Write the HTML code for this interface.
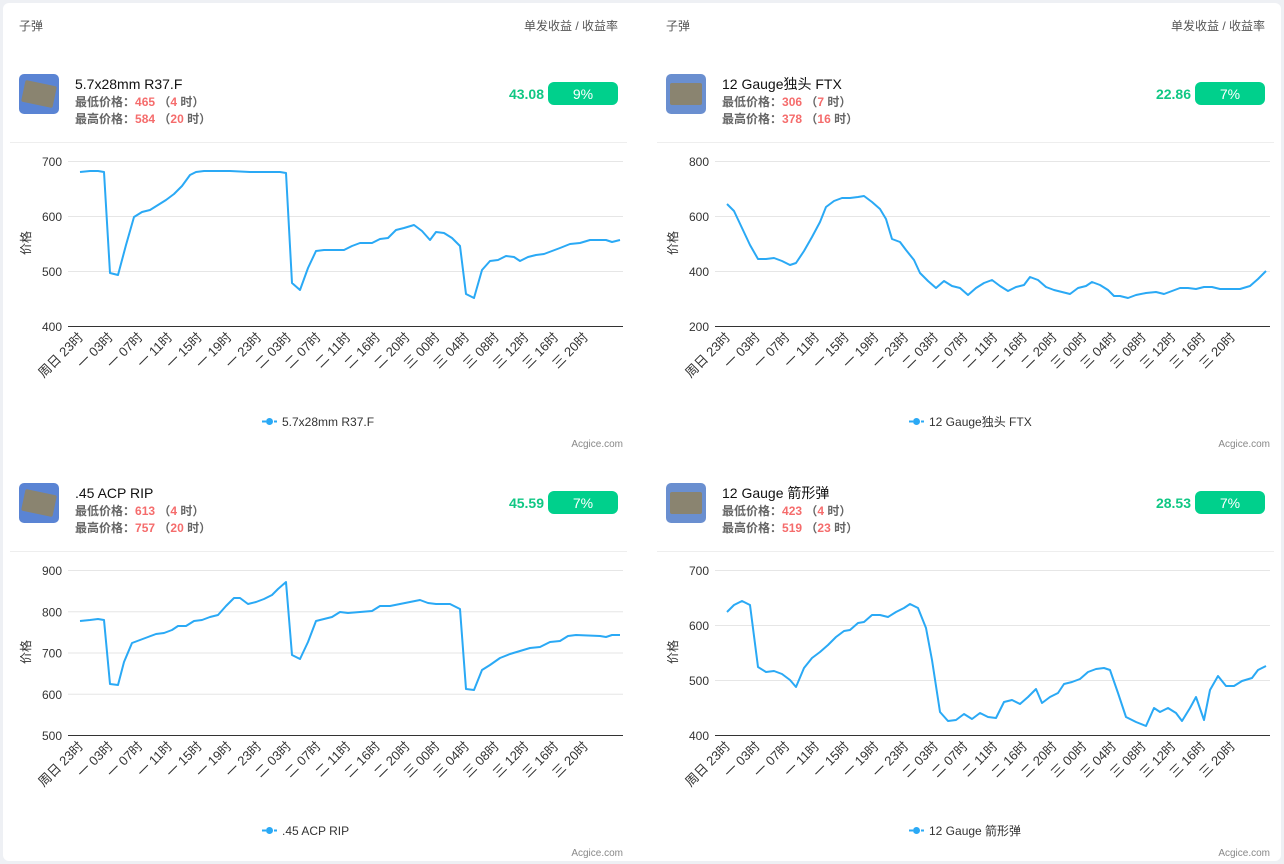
<!DOCTYPE html>
<html><head><meta charset="utf-8"><style>
html,body{margin:0;padding:0;background:#eef0f4;}
svg{display:block;font-family:"Liberation Sans","Noto Sans CJK SC",sans-serif;}
</style></head><body>
<svg id="s" width="1284" height="864" xmlns="http://www.w3.org/2000/svg">
<rect x="3" y="3" width="1278" height="858" rx="6" fill="#fff"/>
</svg>
<script>
const S=document.getElementById('s');let h='';
const labels=['周日 23时','一 03时','一 07时','一 11时','一 15时','一 19时','一 23时','二 03时','二 07时','二 11时','二 16时','二 20时','三 00时','三 04时','三 08时','三 12时','三 16时','三 20时'];
const panels=[
{ox:0,oy:0,name:'5.7x28mm R37.F',lo:'465',lh:'4',hi:'584',hh:'20',val:'43.08',pct:'9%',ticks:[700,600,500,400],top:true,icon:'#5a84d4',
pts:"80,172 90,171 98,171 104,172 110,273 118,275 126,245 134,217 142,212 150,210 158,205 166,200 174,194 182,186 190,175 196,172 204,171 230,171 250,172 280,172 286,173 292,283 300,290 308,268 316,251 324,250 344,250 352,246 360,243 372,243 380,239 388,238 396,230 404,228 414,225 422,231 430,240 436,232 444,233 452,238 460,246 466,294 474,298 482,270 490,261 498,260 506,256 514,257 520,261 528,257 536,255 544,254 552,251 560,248 570,244 580,243 590,240 606,240 612,242 620,240"},
{ox:647,oy:0,name:'12 Gauge独头 FTX',lo:'306',lh:'7',hi:'378',hh:'16',val:'22.86',pct:'7%',ticks:[800,600,400,200],top:true,icon:'#6a8fd0',
pts:"727,204 734,211 742,228 750,245 758,259 766,259 774,258 782,261 790,265 796,263 804,251 812,237 820,222 826,207 834,201 842,198 850,198 858,197 864,196 872,202 880,209 886,219 892,239 900,242 906,250 914,260 920,273 928,281 936,288 944,281 952,286 960,288 968,295 976,288 984,283 992,280 1000,286 1008,291 1016,287 1024,285 1030,277 1038,280 1046,287 1054,290 1062,292 1070,294 1078,288 1086,286 1092,282 1100,285 1108,290 1114,296 1120,296 1128,298 1136,295 1146,293 1156,292 1164,294 1172,291 1180,288 1188,288 1196,289 1204,287 1212,287 1220,289 1228,289 1240,289 1250,286 1258,279 1266,271"},
{ox:0,oy:409,name:'.45 ACP RIP',lo:'613',lh:'4',hi:'757',hh:'20',val:'45.59',pct:'7%',ticks:[900,800,700,600,500],top:false,icon:'#5a84d4',
pts:"80,621 90,620 98,619 104,620 110,684 118,685 124,662 132,643 140,640 148,637 156,634 164,633 172,630 178,626 186,626 194,621 202,620 210,617 218,615 226,606 234,598 240,598 248,604 256,602 264,599 272,595 278,589 286,582 292,655 300,659 308,642 316,621 324,619 332,617 340,612 348,613 360,612 372,611 380,606 390,606 400,604 410,602 420,600 428,603 436,604 450,604 460,609 466,689 474,690 482,670 490,665 500,658 510,654 520,651 530,648 540,647 550,642 560,641 568,636 576,635 600,636 606,637 612,635 620,635"},
{ox:647,oy:409,name:'12 Gauge 箭形弹',lo:'423',lh:'4',hi:'519',hh:'23',val:'28.53',pct:'7%',ticks:[700,600,500,400],top:false,icon:'#6a8fd0',
pts:"727,612 734,605 742,601 750,605 758,667 766,672 774,671 782,674 790,680 796,687 804,668 812,658 820,652 828,645 836,637 844,631 850,630 858,623 864,622 872,615 880,615 888,617 896,612 904,608 910,604 918,608 926,628 932,660 940,712 948,721 956,720 964,714 972,719 980,713 988,717 996,718 1004,702 1012,700 1020,704 1028,697 1036,689 1042,703 1050,697 1058,693 1064,684 1072,682 1080,679 1088,672 1096,669 1104,668 1110,670 1118,693 1126,717 1136,722 1146,726 1154,708 1160,712 1168,708 1176,713 1182,721 1190,708 1196,697 1204,720 1210,690 1218,676 1226,686 1234,686 1242,681 1252,678 1258,670 1266,666"}
];
for(const p of panels){const X=p.ox,Y=p.oy;
if(p.top){h+=`<text x="${X+19}" y="${Y+30}" font-size="12" fill="#555">子弹</text><text x="${X+618}" y="${Y+30}" font-size="12" fill="#555" text-anchor="end">单发收益 / 收益率</text>`;}
h+=`<rect x="${X+19}" y="${Y+74}" width="40" height="40" rx="5" fill="${p.icon}"/><rect x="${X+23}" y="${Y+83}" width="32" height="22" rx="2" fill="#8a8470" transform="rotate(${X?0:12} ${X+39} ${Y+94})"/>`;
h+=`<text x="${X+75}" y="${Y+89}" font-size="14" fill="#111">${p.name}</text>`;
const info=(yy,lab,v,hh)=>`<text x="${X+75}" y="${Y+yy}" font-size="12" font-weight="bold" fill="#666">${lab}：<tspan fill="#f56c6c">${v}</tspan> （<tspan fill="#f56c6c">${hh}</tspan> 时）</text>`;
h+=info(106,'最低价格',p.lo,p.lh)+info(123,'最高价格',p.hi,p.hh);
h+=`<text x="${X+544}" y="${Y+99}" font-size="14" font-weight="bold" fill="#10c784" text-anchor="end">${p.val}</text><rect x="${X+548}" y="${Y+82}" width="70" height="23" rx="6" fill="#00d08c"/><text x="${X+583}" y="${Y+99}" font-size="14" fill="#fff" text-anchor="middle">${p.pct}</text>`;
h+=`<line x1="${X+10}" y1="${Y+142.5}" x2="${X+627}" y2="${Y+142.5}" stroke="#eee"/>`;
const n=p.ticks.length,top=161,bot=326,st=(bot-top)/(n-1);
p.ticks.forEach((t,i)=>{const yy=Y+top+i*st;h+=`<line x1="${X+68}" y1="${yy+.5}" x2="${X+623}" y2="${yy+.5}" stroke="${i==n-1?'#333':'#e6e6e6'}"/><text x="${X+62}" y="${yy+5}" font-size="12" fill="#333" text-anchor="end">${t}</text>`;});
h+=`<text transform="translate(${X+30} ${Y+243}) rotate(-90)" font-size="12" fill="#333" text-anchor="middle">价格</text>`;
labels.forEach((l,i)=>{const xx=X+84+i*29.7;h+=`<text transform="translate(${xx} ${Y+338}) rotate(-45)" font-size="13" fill="#333" text-anchor="end">${l}</text>`;});
h+=`<polyline points="${p.pts}" fill="none" stroke="#2aa9f5" stroke-width="2" stroke-linejoin="round"/>`;
h+=`<line x1="${X+262}" y1="${Y+421.5}" x2="${X+277}" y2="${Y+421.5}" stroke="#2aa9f5" stroke-width="2" stroke-dasharray="4 2"/><circle cx="${X+269.5}" cy="${Y+421.5}" r="3.5" fill="#2aa9f5"/><text x="${X+282}" y="${Y+426}" font-size="12" fill="#333">${p.name}</text>`;
h+=`<text x="${X+623}" y="${Y+447}" font-size="10" fill="#888" text-anchor="end">Acgice.com</text>`;
}
S.innerHTML+=h;
</script>
</body></html>
